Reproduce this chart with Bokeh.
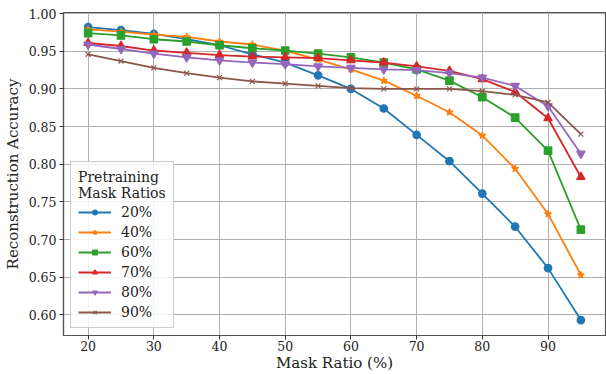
from bokeh.plotting import figure
from bokeh.models import Legend, LegendItem, FixedTicker, Range1d, CustomJSTickFormatter
from bokeh.embed import file_html
from bokeh.resources import INLINE

mask_ratio = [20, 25, 30, 35, 40, 45, 50, 55, 60, 65, 70, 75, 80, 85, 90, 95]

acc_20 = [0.982, 0.978, 0.973, 0.966, 0.958, 0.946, 0.935, 0.918, 0.900, 0.874, 0.839, 0.804, 0.761, 0.717, 0.662, 0.593]
acc_40 = [0.979, 0.976, 0.972, 0.969, 0.963, 0.959, 0.951, 0.939, 0.926, 0.911, 0.891, 0.869, 0.838, 0.794, 0.734, 0.653]
acc_60 = [0.974, 0.971, 0.966, 0.963, 0.958, 0.954, 0.951, 0.947, 0.942, 0.935, 0.926, 0.911, 0.889, 0.862, 0.818, 0.713]
acc_70 = [0.961, 0.957, 0.951, 0.948, 0.945, 0.943, 0.942, 0.941, 0.938, 0.935, 0.930, 0.924, 0.913, 0.896, 0.861, 0.783]
acc_80 = [0.959, 0.953, 0.947, 0.942, 0.938, 0.935, 0.933, 0.930, 0.928, 0.926, 0.925, 0.921, 0.915, 0.904, 0.877, 0.814]
acc_90 = [0.946, 0.937, 0.928, 0.921, 0.915, 0.910, 0.907, 0.904, 0.901, 0.900, 0.900, 0.900, 0.897, 0.892, 0.882, 0.840]

series_labels = ["20%", "40%", "60%", "70%", "80%", "90%"]
series_values = [acc_20, acc_40, acc_60, acc_70, acc_80, acc_90]
colors = ["#1f77b4", "#ff7f0e", "#2ca02c", "#d62728", "#9467bd", "#8c564b"]
markers = ["circle", "star", "square", "triangle", "inverted_triangle", "x"]
marker_sizes = [7.5, 7.5, 7.5, 8.5, 8.5, 7]

x_ticks = [20, 30, 40, 50, 60, 70, 80, 90]
y_ticks = [0.60, 0.65, 0.70, 0.75, 0.80, 0.85, 0.90, 0.95, 1.00]

FONT = "DejaVu Serif"

p = figure(width=606, height=374, output_backend="svg", toolbar_location=None,
           x_range=Range1d(16.25, 98.75), y_range=Range1d(0.5725, 1.0015),
           min_border_left=63, min_border_right=1, min_border_top=12, min_border_bottom=39)

p.xaxis.axis_label = "Mask Ratio (%)"
p.yaxis.axis_label = "Reconstruction Accuracy"
for ax in (p.xaxis[0], p.yaxis[0]):
    ax.axis_label_text_font = FONT
    ax.axis_label_text_font_size = "15px"
    ax.axis_label_text_font_style = "normal"
    ax.axis_label_text_color = "#222222"
    ax.major_label_text_font = FONT
    ax.major_label_text_font_size = "12.5px"
    ax.major_label_text_color = "#222222"
    ax.minor_tick_line_color = None
    ax.major_tick_in = 0
    ax.major_tick_out = 4
    ax.major_tick_line_color = "#333333"
    ax.axis_line_color = "#555555"
    ax.axis_line_width = 1.2
p.xaxis.ticker = FixedTicker(ticks=x_ticks)
p.yaxis.ticker = FixedTicker(ticks=y_ticks)
p.yaxis.formatter = CustomJSTickFormatter(code="return tick.toFixed(2);")
p.xaxis.axis_label_standoff = 0
p.yaxis.axis_label_standoff = 4
p.xaxis.major_label_standoff = 1
p.yaxis.major_label_standoff = 3

p.xgrid.grid_line_color = "#b0b0b0"
p.ygrid.grid_line_color = "#b0b0b0"
p.xgrid.grid_line_width = 1
p.ygrid.grid_line_width = 1
p.outline_line_color = "#555555"
p.outline_line_width = 1.2

items = []
for lab, vals, c, m, s in zip(series_labels, series_values, colors, markers, marker_sizes):
    ln = p.line(mask_ratio, vals, line_color=c, line_width=1.8)
    sc = p.scatter(mask_ratio, vals, marker=m, size=s, fill_color=c, line_color=c, line_width=1.2)
    items.append(LegendItem(label=lab, renderers=[ln, sc]))

legend = Legend(items=items, location="bottom_left", title="Pretraining\nMask Ratios",
                title_text_font=FONT, title_text_font_size="14px", title_text_font_style="normal",
                title_text_color="#222222", title_text_line_height=1.0,
                label_text_font=FONT, label_text_font_size="14px", label_text_color="#222222",
                glyph_width=33, glyph_height=12, label_standoff=10, spacing=4, label_height=12,
                padding=7, margin=7, title_standoff=3,
                border_line_color="#cccccc", border_line_width=1, border_line_alpha=1,
                background_fill_color="white", background_fill_alpha=0.85)
p.add_layout(legend)

open("out.html", "w").write(file_html(p, INLINE))
